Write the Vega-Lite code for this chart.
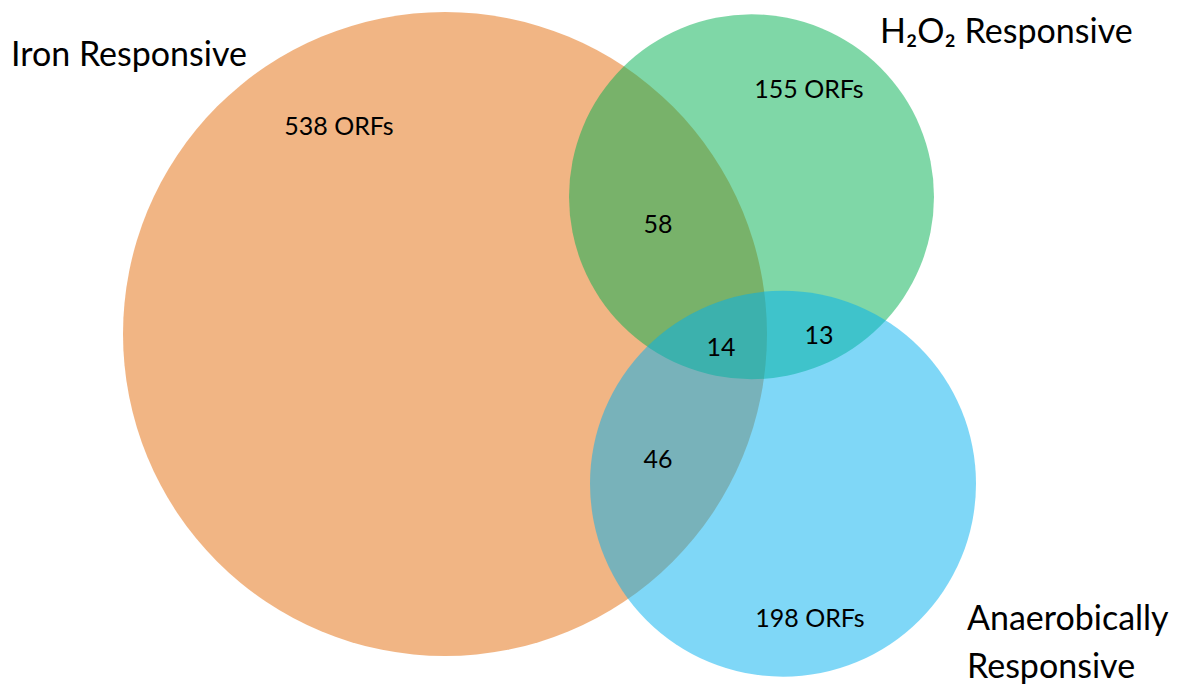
{
  "$schema": "https://vega.github.io/schema/vega-lite/v6.json",
  "width": 1177,
  "height": 685,
  "autosize": {"type": "fit", "contains": "padding"},
  "padding": 0,
  "background": "white",
  "config": {"view": {"stroke": null}},
  "datasets": {
    "circles": [
      {"set": "Iron Responsive", "cx": 445, "cy": 337, "r": 322},
      {"set": "H2O2 Responsive", "cx": 751.5, "cy": 198.5, "r": 182.5},
      {"set": "Anaerobically Responsive", "cx": 783, "cy": 488, "r": 193}
    ],
    "counts": [
      {"label": "538 ORFs", "x": 339, "y": 128},
      {"label": "155 ORFs", "x": 809, "y": 91},
      {"label": "58", "x": 658, "y": 227},
      {"label": "14", "x": 721, "y": 351},
      {"label": "13", "x": 819, "y": 339},
      {"label": "46", "x": 658, "y": 464},
      {"label": "198 ORFs", "x": 810, "y": 624}
    ],
    "titles": [
      {"label": "Iron Responsive", "x": 11, "y": 67},
      {"label": "H₂O₂ Responsive", "x": 880, "y": 43},
      {"label": "Anaerobically", "x": 967, "y": 636},
      {"label": "Responsive", "x": 967, "y": 684}
    ]
  },
  "layer": [
    {
      "data": {"name": "circles"},
      "mark": {"type": "point", "shape": "circle", "filled": true, "opacity": 0.5, "strokeWidth": 0},
      "encoding": {
        "x": {"field": "cx", "type": "quantitative", "scale": {"domain": [0, 1177], "nice": false, "zero": false}, "axis": null},
        "y": {"field": "cy", "type": "quantitative", "scale": {"domain": [0, 685], "reverse": true, "nice": false, "zero": false}, "axis": null},
        "size": {"field": "r", "type": "quantitative", "scale": {"type": "pow", "exponent": 2, "domain": [0, 400], "range": [0, 640000], "zero": true}, "legend": null},
        "color": {"field": "set", "type": "nominal", "scale": {"domain": ["Iron Responsive", "H2O2 Responsive", "Anaerobically Responsive"], "range": ["#E46C0A", "#00B050", "#00B0F0"]}, "legend": null}
      }
    },
    {
      "data": {"name": "counts"},
      "mark": {"type": "text", "align": "center", "baseline": "middle", "font": "Lato", "fontSize": 25, "color": "black"},
      "encoding": {
        "x": {"field": "x", "type": "quantitative"},
        "y": {"field": "y", "type": "quantitative"},
        "text": {"field": "label"}
      }
    },
    {
      "data": {"name": "titles"},
      "mark": {"type": "text", "align": "left", "baseline": "alphabetic", "font": "Lato", "fontSize": 34, "color": "black"},
      "encoding": {
        "x": {"field": "x", "type": "quantitative"},
        "y": {"field": "y", "type": "quantitative"},
        "text": {"field": "label"}
      }
    }
  ]
}
